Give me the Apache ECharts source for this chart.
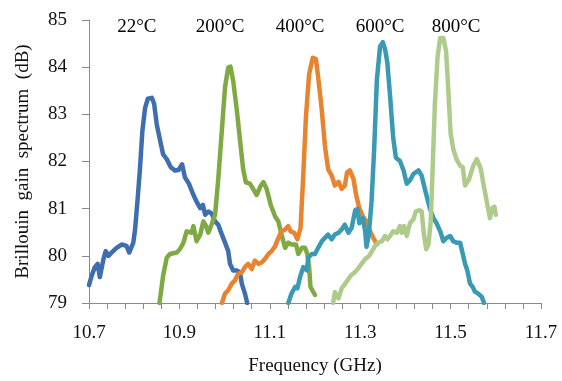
<!DOCTYPE html>
<html>
<head>
<meta charset="utf-8">
<script src="https://cdn.jsdelivr.net/npm/echarts@6/dist/echarts.min.js"></script>
<style>html,body{margin:0;padding:0;background:#fff}#c{width:562px;height:381px}</style>
</head>
<body>
<div id="c"></div>
<script>
// ---- data (frequency GHz, gain dB) ----
const s22_f = [10.700,10.706,10.713,10.719,10.724,10.732,10.737,10.743,10.750,10.761,10.772,10.783,10.789,10.798,10.802,10.808,10.813,10.818,10.824,10.830,10.839,10.844,10.850,10.857,10.864,10.872,10.881,10.890,10.898,10.906,10.912,10.921,10.931,10.938,10.946,10.952,10.957,10.964,10.971,10.979,10.986,10.994,11.001,11.008,11.012,11.019,11.027,11.034,11.038,11.045,11.050];
const s22_v = [79.38,79.58,79.76,79.83,79.55,79.93,80.10,80.00,80.07,80.17,80.24,80.21,80.07,80.28,80.56,81.25,81.88,82.64,83.13,83.33,83.35,83.23,82.78,82.46,82.15,82.05,81.88,81.81,81.82,81.94,81.67,81.53,81.29,81.15,81.01,81.08,80.87,80.94,80.90,80.73,80.66,80.45,80.28,80.10,79.83,79.69,79.69,79.65,79.41,79.20,79.00];

const s200_f = [10.856,10.864,10.872,10.879,10.894,10.901,10.909,10.916,10.927,10.931,10.938,10.946,10.953,10.959,10.964,10.971,10.979,10.986,10.994,11.001,11.008,11.013,11.019,11.027,11.034,11.041,11.047,11.056,11.063,11.071,11.080,11.086,11.093,11.102,11.112,11.119,11.126,11.134,11.141,11.148,11.158,11.163,11.171,11.178,11.183,11.187,11.190,11.200];
const s200_v = [79.00,79.58,79.96,80.04,80.07,80.14,80.28,80.52,80.49,80.63,80.31,80.45,80.73,80.63,80.49,80.66,80.87,81.63,82.67,83.58,83.99,84.01,83.71,83.09,82.46,81.84,81.56,81.53,81.42,81.29,81.49,81.56,81.42,81.08,80.83,80.73,80.45,80.17,80.28,80.24,80.24,80.04,80.17,80.17,80.04,79.76,79.34,79.17];

const s400_f = [10.994,11.001,11.008,11.016,11.023,11.030,11.038,11.045,11.052,11.060,11.067,11.075,11.082,11.089,11.097,11.104,11.112,11.119,11.126,11.134,11.141,11.146,11.154,11.161,11.168,11.174,11.180,11.187,11.195,11.202,11.207,11.215,11.222,11.229,11.237,11.244,11.252,11.259,11.266,11.271,11.277,11.285,11.291,11.298,11.306,11.314,11.322,11.329,11.337];
const s400_v = [79.00,79.20,79.27,79.41,79.48,79.62,79.65,79.76,79.83,79.72,79.90,79.83,79.86,79.93,80.04,80.10,80.21,80.38,80.52,80.56,80.63,80.52,80.49,80.35,80.59,81.70,82.95,83.85,84.20,84.17,83.79,83.09,82.33,81.84,81.70,81.49,81.57,81.42,81.49,81.77,81.81,81.63,81.29,81.01,80.83,80.73,80.52,80.38,80.24];

const s600_f = [11.141,11.148,11.156,11.161,11.167,11.174,11.182,11.185,11.193,11.200,11.207,11.215,11.222,11.229,11.237,11.244,11.252,11.259,11.266,11.274,11.281,11.289,11.294,11.298,11.306,11.311,11.314,11.319,11.325,11.331,11.337,11.344,11.350,11.355,11.360,11.366,11.373,11.379,11.388,11.396,11.403,11.410,11.418,11.429,11.436,11.443,11.454,11.462,11.469,11.477,11.484,11.491,11.499,11.506,11.513,11.521,11.527,11.532,11.537,11.543,11.549,11.554,11.561,11.569,11.574];
const s600_v = [79.00,79.20,79.34,79.31,79.55,79.76,79.69,79.96,80.04,80.04,80.17,80.31,80.38,80.45,80.35,80.45,80.49,80.56,80.66,80.49,80.59,80.97,80.99,80.69,80.80,80.52,80.19,80.45,81.13,82.29,83.75,84.44,84.53,84.38,84.10,83.40,82.50,82.08,82.01,81.81,81.53,81.60,81.74,81.81,81.70,81.42,81.01,80.80,80.69,80.52,80.31,80.38,80.42,80.31,80.28,80.28,80.04,79.83,79.69,79.41,79.34,79.24,79.20,79.13,79.00];

const s800_f = [11.240,11.244,11.252,11.259,11.266,11.274,11.281,11.288,11.296,11.303,11.311,11.319,11.325,11.333,11.340,11.348,11.355,11.360,11.366,11.373,11.381,11.388,11.392,11.397,11.403,11.410,11.418,11.423,11.431,11.436,11.441,11.446,11.451,11.456,11.460,11.465,11.471,11.477,11.484,11.490,11.495,11.500,11.506,11.513,11.521,11.527,11.532,11.536,11.541,11.550,11.558,11.561,11.567,11.572,11.580,11.587,11.592,11.597,11.600];
const s800_v = [79.00,79.23,79.10,79.31,79.40,79.51,79.60,79.65,79.74,79.83,79.93,79.99,80.08,80.21,80.28,80.31,80.42,80.35,80.42,80.52,80.49,80.63,80.49,80.63,80.42,80.69,80.78,80.94,80.97,80.94,80.45,80.14,80.24,80.73,81.77,83.16,84.20,84.62,84.62,84.34,83.51,82.60,82.26,82.05,81.91,81.88,81.49,81.46,81.63,81.91,82.05,82.08,81.84,81.56,81.15,80.80,81.01,81.04,80.87];

const seriesNames = ['22°C','200°C','400°C','600°C','800°C'];
const labelX = [10.806, 10.990, 11.167, 11.344, 11.512];
const labelY = [84.85, 84.85, 84.85, 84.85, 84.85];

const xLabelTicks = [10.7, 10.9, 11.1, 11.3, 11.5, 11.7];
const xMinorTickStep = 0.04;
const yTicks = [79, 80, 81, 82, 83, 84, 85];
// ---------------------------------------

const colors = ['#3F6EB0', '#7FAA43', '#E8842F', '#3A9AB3', '#AECB8C'];
const allF = [s22_f, s200_f, s400_f, s600_f, s800_f];
const allV = [s22_v, s200_v, s400_v, s600_v, s800_v];

const xTickVals = [];
for (let i = 0; i <= 25; i++) xTickVals.push(+(10.7 + i * xMinorTickStep).toFixed(3));

const font = 'Liberation Serif';
const axisColor = '#8a8a8a';

const series = allF.map((fs, k) => ({
  name: seriesNames[k],
  type: 'line',
  data: fs.map((f, i) => [f, allV[k][i]]),
  showSymbol: false,
  smooth: false,
  lineStyle: { color: colors[k], width: 4.5, cap: 'round', join: 'round' },
  itemStyle: { color: colors[k] },
  silent: true,
  animation: false,
  z: 2
}));

series.push({
  type: 'scatter',
  data: labelX.map((x, i) => ({ value: [x, labelY[i]], name: seriesNames[i] })),
  symbolSize: 0,
  silent: true,
  animation: false,
  itemStyle: { opacity: 1 },
  label: {
    show: true,
    position: 'inside',
    formatter: p => p.name,
    color: '#000',
    textBorderWidth: 0,
    fontFamily: font,
    fontSize: 19
  }
});

const chart = echarts.init(document.getElementById('c'), null, { renderer: 'canvas' });
chart.setOption({
  animation: false,
  backgroundColor: '#fff',
  grid: { left: 89, top: 20, width: 452, height: 288, containLabel: false },
  xAxis: {
    type: 'value',
    min: 10.7, max: 11.7,
    name: 'Frequency (GHz)',
    nameLocation: 'middle',
    nameGap: 54,
    nameTextStyle: { fontFamily: font, fontSize: 19, color: '#111' },
    axisLine: { show: true, lineStyle: { color: axisColor, width: 1 } },
    axisTick: { show: true, length: 6, inside: false, customValues: xTickVals, lineStyle: { color: axisColor } },
    axisLabel: { customValues: xLabelTicks, fontFamily: font, fontSize: 19, color: '#111', margin: 21,
      formatter: v => v.toFixed(1) },
    splitLine: { show: false }
  },
  yAxis: {
    type: 'value',
    min: 79, max: 85, interval: 1,
    name: 'Brillouin  gain  spectrum  (dB)',
    nameLocation: 'middle',
    nameGap: 56,
    nameRotate: 90,
    nameTextStyle: { fontFamily: font, fontSize: 19, color: '#111' },
    axisLine: { show: true, lineStyle: { color: axisColor, width: 1 } },
    axisTick: { show: true, length: 7, inside: false, lineStyle: { color: axisColor } },
    axisLabel: { fontFamily: font, fontSize: 19, color: '#111', margin: 22 },
    splitLine: { show: false }
  },
  series: series
});
</script>
</body>
</html>
